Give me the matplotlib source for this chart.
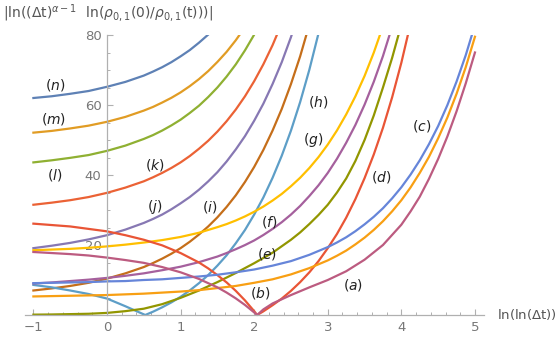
import matplotlib
matplotlib.use("Agg")
import matplotlib.pyplot as plt
from matplotlib.ticker import MultipleLocator, FixedLocator

plt.rcParams['mathtext.fontset'] = 'dejavusans'

# ---------------- data ----------------
n_x = [-1.0, -0.75, -0.5, -0.25, 0.0, 0.25, 0.5, 0.625, 0.75, 0.875, 1.0, 1.125, 1.25, 1.375]
n_vals = [62.0, 62.5, 63.2, 64.0, 65.2, 66.6, 68.4, 69.55, 70.8, 72.24, 73.9, 75.69, 77.8, 80.11]

m_x = [-1.0, -0.75, -0.5, -0.25, 0.0, 0.25, 0.5, 0.625, 0.75, 0.875, 1.0, 1.125, 1.25, 1.375,
       1.5, 1.625, 1.75, 1.875]
m_vals = [52.1, 52.6, 53.3, 54.1, 55.2, 56.6, 58.4, 59.45, 60.7, 62.05, 63.6, 65.39, 67.4, 69.68,
          72.3, 75.18, 78.5, 82.25]

l_x = [-1.0, -0.75, -0.5, -0.25, 0.0, 0.25, 0.5, 0.625, 0.75, 0.875, 1.0, 1.125, 1.25, 1.375,
       1.5, 1.625, 1.75, 1.875, 2.0, 2.125]
l_vals = [43.6, 44.2, 44.9, 45.7, 46.9, 48.4, 50.3, 51.4, 52.7, 54.17, 55.8, 57.72, 59.8, 62.27,
          65.0, 68.11, 71.6, 75.61, 80.1, 85.0]

k_x = [-1.0, -0.75, -0.5, -0.25, 0.0, 0.25, 0.5, 0.625, 0.75, 0.875, 1.0, 1.125, 1.25, 1.375,
       1.5, 1.625, 1.75, 1.875, 2.0, 2.125, 2.25, 2.375]
k_vals = [31.5, 32.1, 32.8, 33.7, 34.9, 36.4, 38.2, 39.34, 40.6, 42.01, 43.6, 45.42, 47.5, 49.78,
          52.4, 55.36, 58.7, 62.49, 66.8, 71.64, 77.1, 83.36]

j_x = [-1.0, -0.75, -0.5, -0.25, 0.0, 0.25, 0.5, 0.625, 0.75, 0.875, 1.0, 1.125, 1.25, 1.375,
       1.5, 1.625, 1.75, 1.875, 2.0, 2.125, 2.25, 2.375, 2.5, 2.625]
j_vals = [19.1, 19.8, 20.6, 21.6, 22.8, 24.4, 26.3, 27.44, 28.7, 30.21, 31.9, 33.71, 35.8, 38.17,
          40.8, 43.85, 47.3, 51.11, 55.5, 60.38, 66.0, 72.25, 79.4, 87.44]

i_x = [-1.0, -0.75, -0.5, -0.25, 0.0, 0.25, 0.5, 0.625, 0.75, 0.875, 1.0, 1.125, 1.25, 1.375,
       1.5, 1.625, 1.75, 1.875, 2.0, 2.125, 2.25, 2.375, 2.5, 2.625, 2.75]
i_vals = [7.0, 7.6, 8.3, 9.2, 10.4, 11.9, 13.7, 14.84, 16.1, 17.51, 19.1, 20.93, 23.0, 25.29,
          27.9, 30.87, 34.2, 38.01, 42.3, 47.17, 52.7, 58.89, 66.0, 73.93, 83.0]

h_x = [-1.0, -0.75, -0.5, -0.25, 0.0, 0.25, 0.52, 0.625, 0.75, 0.875, 1.0, 1.125, 1.25, 1.375,
       1.5, 1.625, 1.75, 1.875, 2.0, 2.125, 2.25, 2.375, 2.5, 2.625, 2.75, 2.875]
h_vals = [8.6, 7.9, 7.0, 6.0, 4.7, 2.5, 0.0, 0.94, 2.2, 3.6, 5.2, 7.02, 9.1, 11.41,
          14.1, 17.05, 20.5, 24.29, 28.7, 33.59, 39.2, 45.53, 52.7, 60.86, 70.1, 80.54]

g_x = [-1.0, -0.75, -0.5, -0.25, 0.0, 0.25, 0.5, 0.75, 1.0, 1.25, 1.5, 1.625, 1.75, 1.875, 2.0,
       2.125, 2.25, 2.375, 2.5, 2.625, 2.75, 2.875, 3.0, 3.125, 3.25, 3.375, 3.5, 3.625, 3.75]
g_vals = [18.5, 18.7, 18.9, 19.2, 19.6, 20.1, 20.7, 21.4, 22.3, 23.5, 25.1, 25.97, 27.0, 28.17,
          29.5, 30.99, 32.7, 34.6, 36.8, 39.22, 42.0, 45.14, 48.7, 52.73, 57.3, 62.47, 68.3,
          74.96, 82.5]

f_x = [-1.0, -0.75, -0.5, -0.25, 0.0, 0.25, 0.5, 0.75, 1.0, 1.25, 1.5, 1.625, 1.75, 1.875, 2.0,
       2.125, 2.25, 2.375, 2.5, 2.625, 2.75, 2.875, 3.0, 3.125, 3.25, 3.375, 3.5, 3.625, 3.75,
       3.875]
f_vals = [9.0, 9.3, 9.7, 10.1, 10.6, 11.2, 11.9, 12.8, 13.8, 15.1, 16.7, 17.7, 18.8, 19.98,
          21.3, 22.86, 24.6, 26.52, 28.7, 31.17, 34.0, 37.08, 40.6, 44.64, 49.2, 54.29, 60.1,
          66.63, 74.0, 82.42]

e_x = [-1.0, -0.75, -0.5, -0.25, 0.0, 0.25, 0.5, 0.75, 1.0, 1.25, 1.5, 1.75, 2.0, 2.25, 2.5,
       2.625, 2.75, 2.875, 3.0, 3.125, 3.25, 3.375, 3.5, 3.625, 3.75, 3.875, 4.0]
e_vals = [0.1, 0.15, 0.25, 0.35, 0.6, 1.1, 1.8, 3.1, 4.9, 7.0, 9.4, 12.0, 14.8, 17.8, 21.5,
          23.6, 26.0, 28.6, 31.5, 35.0, 39.0, 44.0, 50.0, 57.0, 65.0, 73.5, 83.0]

d_x = [-1.0, -0.75, -0.5, -0.25, 0.0, 0.25, 0.5, 0.75, 1.0, 1.25, 1.375, 1.5, 1.625, 1.75,
       1.875, 2.0, 2.04, 2.125, 2.25, 2.375, 2.5, 2.625, 2.75, 2.875, 3.0, 3.125, 3.25, 3.375,
       3.5, 3.625, 3.75, 3.875, 4.0, 4.125]
d_vals = [26.1, 25.7, 25.3, 24.6, 23.9, 22.8, 21.5, 19.9, 17.7, 15.0, 13.32, 11.4, 9.32, 6.9,
          4.17, 1.1, 0.0, 1.05, 2.8, 4.70, 6.9, 9.40, 12.2, 15.42, 19.1, 23.16, 27.8, 33.10,
          39.1, 45.86, 53.5, 62.23, 72.1, 83.28]

c_x = [-1.0, -0.75, -0.5, -0.25, 0.0, 0.25, 0.5, 0.75, 1.0, 1.25, 1.5, 1.75, 2.0, 2.25, 2.5,
       2.75, 3.0, 3.125, 3.25, 3.375, 3.5, 3.625, 3.75, 3.875, 4.0, 4.125, 4.25, 4.375, 4.5,
       4.625, 4.75, 4.875, 5.0]
c_vals = [9.1, 9.2, 9.3, 9.4, 9.6, 9.7, 10.0, 10.2, 10.6, 11.0, 11.5, 12.2, 13.0, 14.1, 15.4,
          17.2, 19.4, 20.72, 22.2, 23.94, 25.9, 28.06, 30.5, 33.34, 36.5, 40.12, 44.2, 48.81,
          54.0, 59.96, 66.7, 74.25, 82.9]

b_x = [-1.0, -0.75, -0.5, -0.25, 0.0, 0.25, 0.5, 0.75, 1.0, 1.25, 1.5, 1.75, 2.0, 2.25, 2.5,
       2.75, 3.0, 3.125, 3.25, 3.375, 3.5, 3.625, 3.75, 3.875, 4.0, 4.125, 4.25, 4.375, 4.5,
       4.625, 4.75, 4.875, 5.0]
b_vals = [5.3, 5.4, 5.5, 5.6, 5.7, 5.9, 6.1, 6.4, 6.7, 7.1, 7.7, 8.3, 9.2, 10.2, 11.6, 13.4,
          15.6, 16.93, 18.4, 20.17, 22.1, 24.31, 26.8, 29.63, 32.8, 36.45, 40.6, 45.19, 50.5,
          56.42, 63.2, 70.82, 79.5]

a_x = [-1.0, -0.75, -0.5, -0.25, 0.0, 0.25, 0.5, 0.75, 1.0, 1.25, 1.5, 1.625, 1.75, 1.875,
       2.0, 2.04, 2.125, 2.25, 2.5, 2.75, 3.0, 3.25, 3.5, 3.75, 4.0, 4.125, 4.25, 4.375, 4.5,
       4.625, 4.75, 4.875, 5.0]
a_vals = [18.0, 17.7, 17.4, 17.0, 16.4, 15.7, 14.9, 13.7, 12.2, 10.3, 7.9, 6.42, 4.75, 2.87,
          0.74, 0.0, 1.6, 3.3, 5.7, 7.9, 10.0, 12.5, 15.8, 20.0, 25.8, 29.6, 33.8, 38.9, 44.6,
          51.0, 58.2, 66.2, 75.0]

curve_names = ['n', 'm', 'l', 'k', 'j', 'i', 'h', 'g', 'f', 'e', 'd', 'c', 'b', 'a']
curve_x = [n_x, m_x, l_x, k_x, j_x, i_x, h_x, g_x, f_x, e_x, d_x, c_x, b_x, a_x]
curve_y = [n_vals, m_vals, l_vals, k_vals, j_vals, i_vals, h_vals, g_vals, f_vals, e_vals,
           d_vals, c_vals, b_vals, a_vals]

x_ticks = [-1, 0, 1, 2, 3, 4, 5]
y_ticks = [20, 40, 60, 80]

# ---------------- styling ----------------
colors = ['#5E81B5', '#E19C24', '#8FB032', '#EB6235', '#8778B3', '#C56E1A', '#5D9EC7',
          '#FFBF00', '#A5609D', '#929600', '#E95536', '#6685D9', '#F89F13', '#BC5B80']

label_pos = {'n': (-0.70, 65.7), 'm': (-0.73, 55.9), 'l': (-0.71, 40.0), 'k': (0.65, 42.9),
             'j': (0.65, 30.9), 'i': (1.40, 30.9), 'h': (2.87, 60.9), 'g': (2.80, 50.0),
             'f': (2.21, 26.6), 'e': (2.17, 17.4), 'd': (3.72, 39.4), 'c': (4.27, 54.0),
             'b': (2.08, 6.4), 'a': (3.35, 8.7)}

W, H = 559, 341
fig = plt.figure(figsize=(W / 100, H / 100), dpi=100)
ax = fig.add_axes([0.04526, 0.07111, 0.8202, 0.82625])
ax.set_xlim(-1.11, 5.12)
ax.set_ylim(-0.5, 80)

for z, (nm, xs, ys, col) in enumerate(zip(curve_names, curve_x, curve_y, colors)):
    ax.plot(xs, ys, color=col, lw=1.6, zorder=2 + z * 0.01, solid_joinstyle='round')

for nm in curve_names:
    px, py = label_pos[nm]
    ax.text(px, py, r'$(%s)$' % nm, fontsize=10, color='#222222', ha='center', va='center', zorder=5)

axis_col = '#b0b0b0'
for s in ['top', 'right']:
    ax.spines[s].set_visible(False)
ax.spines['left'].set_position(('data', 0))
ax.spines['bottom'].set_position(('data', 0))
ax.spines['left'].set_bounds(0, 80)
for s in ['left', 'bottom']:
    ax.spines[s].set_color(axis_col)
    ax.spines[s].set_linewidth(0.9)

ax.xaxis.set_major_locator(FixedLocator(x_ticks))
ax.xaxis.set_minor_locator(MultipleLocator(0.2))
ax.yaxis.set_major_locator(FixedLocator(y_ticks))
ax.yaxis.set_minor_locator(MultipleLocator(5))
ax.set_xticklabels(['\u2212' + str(-t) if t < 0 else str(t) for t in x_ticks])
ax.set_yticklabels([str(t) for t in y_ticks])
ax.tick_params(axis='both', which='major', direction='in', length=4, width=0.8,
               color=axis_col, labelcolor='#777777', labelsize=9.5, pad=4)
ax.tick_params(axis='both', which='minor', direction='in', length=2, width=0.7, color=axis_col)
ax.patch.set_visible(False)

fig.text(3 / W, 1 - 13 / H, r'$|\mathrm{ln}((\Delta\mathrm{t})^{\alpha-1}\ \ \mathrm{ln}(\rho_{0,1}(0)/\rho_{0,1}(\mathrm{t})))|$',
         fontsize=10, color='#555555', ha='left', va='center')
fig.text(497 / W, 1 - 315 / H, r'ln(ln($\Delta$t))', fontsize=9.5, color='#555555',
         ha='left', va='center')

fig.savefig('out.png', dpi=100)
